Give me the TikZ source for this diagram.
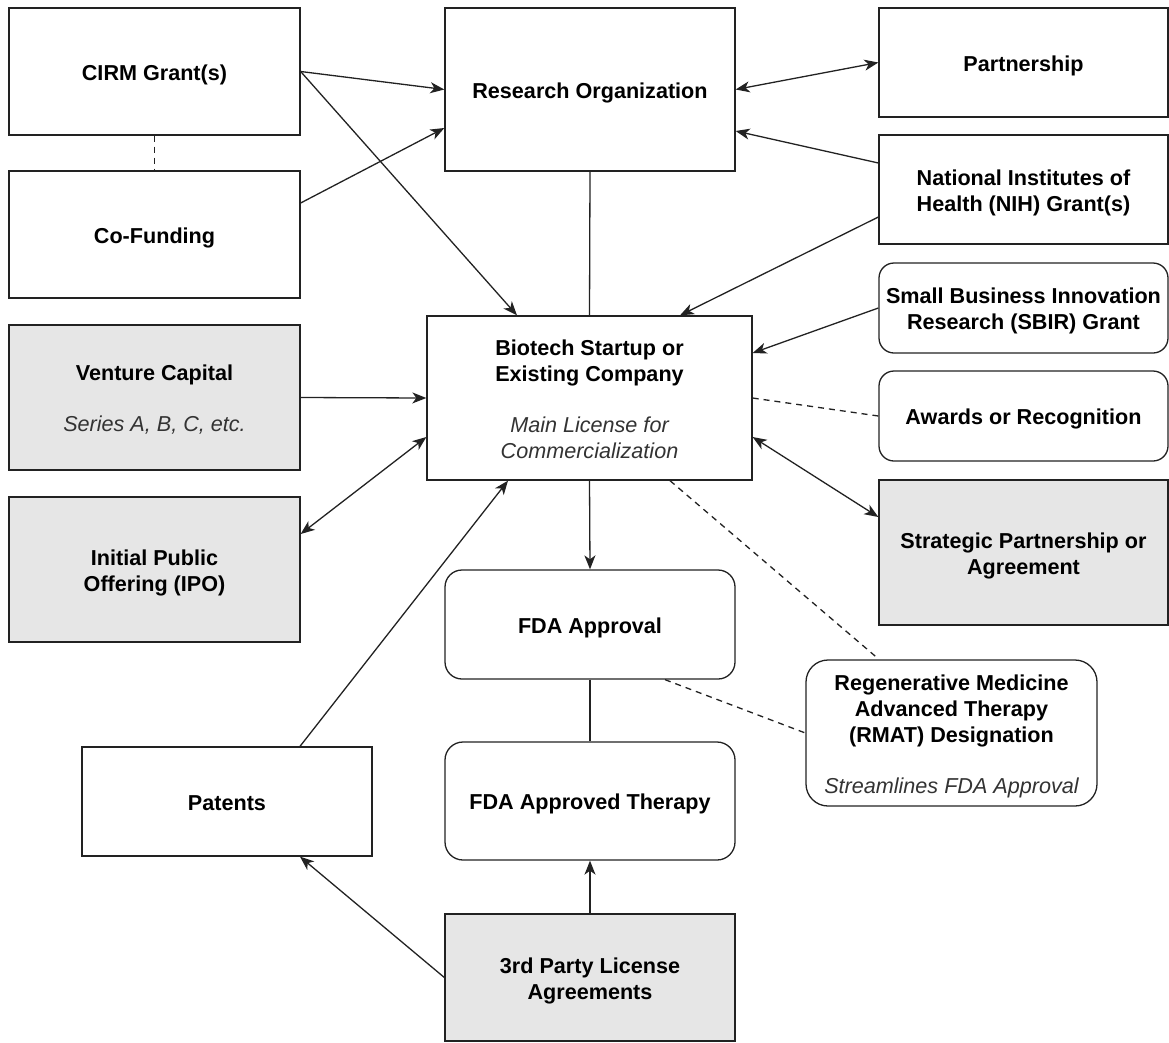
\documentclass[tikz,border=0pt]{standalone}
\usepackage{fontspec}
\setmainfont{Liberation Sans}
\usetikzlibrary{arrows.meta}
\definecolor{boxgrey}{HTML}{E6E6E6}
\definecolor{linecol}{HTML}{222222}
\newcommand\subtxt[1]{{\mdseries\itshape\color{black!80}#1}}
\newsavebox\txtbox
\newcommand\boxtxt[1]{\sbox\txtbox{\begin{tabular}{@{}c@{}}#1\end{tabular}}\raisebox{-3.5pt}[\ht\txtbox][\dp\txtbox]{\usebox\txtbox}}
\begin{document}
\begin{tikzpicture}[x=1pt,y=-1pt,
  box/.style={draw=linecol, line width=1.3pt, fill=white, rectangle,
    inner sep=0pt, font=\bfseries\fontsize{21.6}{26}\selectfont},
  greybox/.style={box, fill=boxgrey},
  conn/.style={line width=1.3pt, draw=linecol},
  arr/.style={conn, -{Stealth[length=14pt,width=11pt,inset=4pt]}},
  darr/.style={conn, {Stealth[length=14pt,width=11pt,inset=4pt]}-{Stealth[length=14pt,width=11pt,inset=4pt]}},
  dashline/.style={conn, dash pattern=on 6pt off 5pt}
]
\useasboundingbox (0,0) rectangle (1169,1042);

% left column
\node[box, minimum width=291pt, minimum height=127pt] (cirm) at (154.5,71.5) {\boxtxt{CIRM Grant(s)}};
\node[box, minimum width=291pt, minimum height=127pt] (cofund) at (154.5,234.5) {\boxtxt{Co-Funding}};
\node[greybox, minimum width=291pt, minimum height=145pt] (vc) at (154.5,397.5)
  {\boxtxt{Venture Capital\\[25pt]\subtxt{Series A, B, C, etc.}}};
\node[greybox, minimum width=291pt, minimum height=145pt] (ipo) at (154.5,569.5)
  {\boxtxt{Initial Public\\Offering (IPO)}};
\node[box, minimum width=290pt, minimum height=109pt] (patents) at (227,801.5) {\boxtxt{Patents}};

% centre column
\node[box, minimum width=290pt, minimum height=163pt] (ro) at (590,89.5) {\boxtxt{Research Organization}};
\node[box, minimum width=325pt, minimum height=164pt] (bio) at (589.5,398)
  {\boxtxt{Biotech Startup or\\Existing Company\\[25pt]\subtxt{Main License for}\\\subtxt{Commercialization}}};
\node[box, rounded corners=17pt, minimum width=290pt, minimum height=109pt] (fda) at (590,624.5) {\boxtxt{FDA Approval}};
\node[box, rounded corners=18pt, minimum width=290pt, minimum height=118pt] (fdat) at (590,801) {\boxtxt{FDA Approved Therapy}};
\node[greybox, minimum width=290pt, minimum height=127pt] (third) at (590,977.5)
  {\boxtxt{3rd Party License\\Agreements}};

% right column
\node[box, minimum width=289pt, minimum height=109pt] (part) at (1023.5,62.5) {\boxtxt{Partnership}};
\node[box, minimum width=289pt, minimum height=109pt] (nih) at (1023.5,189.5)
  {\boxtxt{National Institutes of\\Health (NIH) Grant(s)}};
\node[box, rounded corners=15pt, minimum width=289pt, minimum height=90pt] (sbir) at (1023.5,308)
  {\boxtxt{Small Business Innovation\\Research (SBIR) Grant}};
\node[box, rounded corners=15pt, minimum width=289pt, minimum height=90pt] (awards) at (1023.5,416)
  {\boxtxt{Awards or Recognition}};
\node[greybox, minimum width=289pt, minimum height=145pt] (strat) at (1023.5,552.5)
  {\boxtxt{Strategic Partnership or\\Agreement}};
\node[box, rounded corners=22pt, minimum width=291pt, minimum height=146pt] (rmat) at (951.5,733)
  {\boxtxt{Regenerative Medicine\\Advanced Therapy\\(RMAT) Designation\\[25pt]\subtxt{Streamlines FDA Approval}}};

% connectors
\draw[arr] (cirm.east) -- (ro.west);
\draw[arr] (cirm.east) -- ([xshift=-72.5pt]bio.north);
\draw[dashline] (cirm.south) -- (cofund.north);
\draw[arr] ([yshift=31.5pt]cofund.east) -- ([yshift=-38.5pt]ro.west);
\draw[darr] (ro.east) -- (part.west);
\draw[arr] ([yshift=26.5pt]nih.west) -- ([yshift=-41.5pt]ro.east);
\draw[arr] ([yshift=-27.5pt]nih.west) -- ([xshift=90.5pt]bio.north);
\draw[conn] (ro.south) -- (bio.north);
\draw[arr] (sbir.west) -- ([yshift=45pt]bio.east);
\draw[dashline] (bio.east) -- (awards.west);
\draw[darr] ([yshift=-39pt]bio.east) -- ([yshift=35.5pt]strat.west);
\draw[arr] (vc.east) -- (bio.west);
\draw[darr] ([yshift=35.5pt]ipo.east) -- ([yshift=-39pt]bio.west);
\draw[arr] ([xshift=73pt]patents.north) -- ([xshift=-81.5pt]bio.south);
\draw[arr] (bio.south) -- (fda.north);
\draw[dashline] ([xshift=80.5pt]bio.south) -- ([xshift=-72.5pt]rmat.north);
\draw[dashline] ([xshift=75pt]fda.south) -- (rmat.west);
\draw[conn] (fda.south) -- (fdat.north);
\draw[arr] (third.north) -- (fdat.south);
\draw[arr] (third.west) -- ([xshift=73pt]patents.south);
\end{tikzpicture}
\end{document}
